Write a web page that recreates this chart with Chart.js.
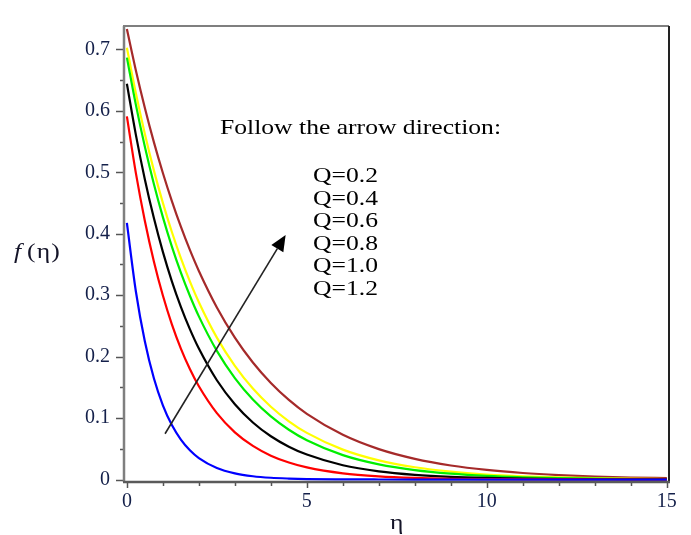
<!DOCTYPE html>
<html>
<head>
<meta charset="utf-8">
<script src="https://cdn.jsdelivr.net/npm/chart.js@4/dist/chart.umd.min.js"></script>
<style>
  html, body { margin: 0; padding: 0; background: #ffffff; }
  #wrap { width: 691px; height: 535px; position: relative; }
</style>
</head>
<body>
<div id="wrap"><canvas id="c" width="691" height="535"></canvas></div>
<script>
// ---- data ----
const eta = [0, 0.25, 0.5, 0.75, 1, 1.25, 1.5, 1.75, 2, 2.5, 3, 3.5, 4, 4.5, 5, 6, 7, 8, 9, 10, 11, 12, 13, 14, 15];

const fQ02 = [0.4175, 0.306, 0.2246, 0.1647, 0.1208, 0.0886, 0.065, 0.0477, 0.035, 0.0188, 0.0101, 0.0054, 0.0029, 0.0016, 0.0008, 0.0003, 0.0001, 0, 0, 0, 0, 0, 0, 0, 0];
const fQ04 = [0.591, 0.4986, 0.4207, 0.3549, 0.2994, 0.2526, 0.2131, 0.1798, 0.1517, 0.108, 0.0768, 0.0547, 0.0389, 0.0277, 0.0197, 0.01, 0.0051, 0.0026, 0.0013, 0.0007, 0.0003, 0.0002, 0.0001, 0, 0];
const fQ06 = [0.644, 0.5609, 0.4884, 0.4254, 0.3704, 0.3226, 0.281, 0.2447, 0.2131, 0.1616, 0.1226, 0.0929, 0.0705, 0.0535, 0.0406, 0.0233, 0.0134, 0.0077, 0.0044, 0.0026, 0.0015, 0.0008, 0.0005, 0.0003, 0.0002];
const fQ08 = [0.6866, 0.6097, 0.5415, 0.4809, 0.427, 0.3791, 0.3367, 0.2991, 0.2655, 0.2094, 0.1651, 0.1302, 0.1027, 0.081, 0.0639, 0.0397, 0.0247, 0.0154, 0.0096, 0.0059, 0.0037, 0.0023, 0.0014, 0.0009, 0.0006];
const fQ10 = [0.7025, 0.6287, 0.5624, 0.5031, 0.4502, 0.4028, 0.3604, 0.3224, 0.2885, 0.2309, 0.1849, 0.148, 0.1185, 0.0948, 0.0759, 0.0487, 0.0312, 0.02, 0.0128, 0.0082, 0.0053, 0.0034, 0.0022, 0.0014, 0.0009];
const fQ12 = [0.733, 0.6657, 0.6046, 0.549, 0.4988, 0.4531, 0.4114, 0.3736, 0.3394, 0.28, 0.231, 0.1905, 0.1572, 0.1296, 0.1069, 0.0728, 0.0495, 0.0337, 0.0229, 0.0156, 0.0106, 0.0072, 0.0049, 0.0033, 0.0023];

const seriesLabels = ["Q=0.2", "Q=0.4", "Q=0.6", "Q=0.8", "Q=1.0", "Q=1.2"];
const seriesColors = ["#0000ff", "#ff0000", "#000000", "#00ee00", "#ffff00", "#a52a2a"];

const xTicks = [0, 5, 10, 15];
const xTickLabels = ["0", "5", "10", "15"];
const yTicks = [0, 0.1, 0.2, 0.3, 0.4, 0.5, 0.6, 0.7];
const yTickLabels = ["0", "0.1", "0.2", "0.3", "0.4", "0.5", "0.6", "0.7"];

const headingText = "Follow the arrow direction:";
const xTitle = "η";
const yTitleF = "f";
const yTitleRest = "(η)";

// arrow endpoints in data units (η, f)
const arrowFrom = [1.06, 0.0745];
const arrowTo = [4.41, 0.398];

// ---- chart ----
const allSeries = [fQ02, fQ04, fQ06, fQ08, fQ10, fQ12];
const datasets = allSeries.map((s, i) => ({
  label: seriesLabels[i],
  data: eta.map((e, j) => ({ x: e, y: s[j] })),
  borderColor: seriesColors[i],
  backgroundColor: seriesColors[i],
  borderWidth: 2.2,
  pointRadius: 0,
  fill: false,
  cubicInterpolationMode: 'monotone'
}));

const SX = 1.22; // horizontal stretch of the reference's lettering

const decor = {
  id: 'decor',
  afterDraw(chart) {
    const ctx = chart.ctx;
    const xs = chart.scales.x, ys = chart.scales.y;
    const a = chart.chartArea;
    ctx.save();

    // tick marks
    ctx.strokeStyle = '#555555';
    ctx.lineWidth = 1.5;
    for (let k = 0; k <= 14; k++) {
      const v = k * 0.05;
      const py = Math.round(ys.getPixelForValue(v)) + 0.5;
      const major = k % 2 === 0;
      ctx.beginPath();
      ctx.moveTo(a.left - (major ? 8 : 4), py);
      ctx.lineTo(a.left, py);
      ctx.stroke();
    }
    for (let k = 0; k <= 15; k++) {
      const px = Math.round(xs.getPixelForValue(k)) + 0.5;
      const major = k % 5 === 0;
      ctx.beginPath();
      ctx.moveTo(px, a.bottom);
      ctx.lineTo(px, a.bottom + (major ? 6 : 4));
      ctx.stroke();
    }

    // frame
    ctx.lineWidth = 2.5;
    ctx.strokeStyle = '#7f7f7f';
    ctx.beginPath(); ctx.moveTo(a.left, a.bottom); ctx.lineTo(a.left, a.top); ctx.stroke();
    ctx.lineWidth = 2;
    ctx.beginPath(); ctx.moveTo(a.left - 1, a.top); ctx.lineTo(a.right, a.top); ctx.stroke();
    ctx.strokeStyle = '#222222';
    ctx.beginPath(); ctx.moveTo(a.right, a.top); ctx.lineTo(a.right, a.bottom); ctx.stroke();
    ctx.lineWidth = 2.5;
    ctx.strokeStyle = '#5a5a5a';
    ctx.beginPath(); ctx.moveTo(a.left - 1, a.bottom); ctx.lineTo(a.right + 1, a.bottom); ctx.stroke();

    // arrow
    const x0 = xs.getPixelForValue(arrowFrom[0]), y0 = ys.getPixelForValue(arrowFrom[1]);
    const x1 = xs.getPixelForValue(arrowTo[0]), y1 = ys.getPixelForValue(arrowTo[1]);
    const ang = Math.atan2(y1 - y0, x1 - x0);
    const hl = 16, hw = 7;
    const bx = x1 - hl * Math.cos(ang), by = y1 - hl * Math.sin(ang);
    ctx.strokeStyle = '#222222';
    ctx.lineWidth = 1.6;
    ctx.beginPath(); ctx.moveTo(x0, y0); ctx.lineTo(bx, by); ctx.stroke();
    ctx.fillStyle = '#000000';
    ctx.beginPath();
    ctx.moveTo(x1, y1);
    ctx.lineTo(bx + hw * Math.sin(ang), by - hw * Math.cos(ang));
    ctx.lineTo(bx - hw * Math.sin(ang), by + hw * Math.cos(ang));
    ctx.closePath();
    ctx.fill();

    // annotation text
    const stretchText = (txt, x, y, font, color) => {
      ctx.save();
      ctx.font = font;
      ctx.fillStyle = color;
      ctx.textAlign = 'left';
      ctx.textBaseline = 'alphabetic';
      ctx.translate(x, y);
      ctx.scale(SX, 1);
      ctx.fillText(txt, 0, 0);
      ctx.restore();
    };
    stretchText(headingText, 220, 134, '21px "Liberation Serif"', '#000000');
    seriesLabels.forEach((t, i) => {
      stretchText(t, 313, 182 + i * 22.5, '21px "Liberation Serif"', '#000000');
    });

    // axis titles
    stretchText(yTitleF, 14, 258, 'italic 21px "Liberation Serif"', '#141428');
    ctx.save();
    ctx.font = '21px "Liberation Serif"';
    ctx.fillStyle = '#141428';
    ctx.letterSpacing = '1px';
    ctx.translate(27, 258);
    ctx.scale(SX, 1);
    ctx.fillText(yTitleRest, 0, 0);
    ctx.restore();
    stretchText(xTitle, 390, 529, '21px "Liberation Serif"', '#141428');

    ctx.restore();
  }
};

new Chart(document.getElementById('c'), {
  type: 'line',
  data: { datasets },
  plugins: [decor],
  options: {
    responsive: false,
    animation: false,
    devicePixelRatio: 1,
    layout: { padding: { top: 16, right: 22, left: 0, bottom: 0 } },
    plugins: { legend: { display: false }, tooltip: { enabled: false }, title: { display: false } },
    scales: {
      x: {
        type: 'linear',
        min: -0.08,
        max: 15.06,
        grid: { display: false, drawTicks: false },
        border: { display: false },
        afterBuildTicks: s => { s.ticks = xTicks.map(v => ({ value: v })); },
        afterFit: s => { s.height = 53; },
        ticks: {
          padding: 8,
          maxRotation: 0,
          autoSkip: false,
          color: '#14204a',
          font: { family: 'Liberation Serif', size: 20 },
          callback: (v) => { const i = xTicks.indexOf(v); return i >= 0 ? xTickLabels[i] : ''; }
        }
      },
      y: {
        type: 'linear',
        min: -0.004,
        max: 0.738,
        grid: { display: false, drawTicks: false },
        border: { display: false },
        afterBuildTicks: s => { s.ticks = yTicks.map(v => ({ value: v })); },
        afterFit: s => { s.width = 124; },
        ticks: {
          padding: 14,
          autoSkip: false,
          color: '#14204a',
          font: { family: 'Liberation Serif', size: 20 },
          callback: (v) => {
            let i = -1;
            yTicks.forEach((t, j) => { if (Math.abs(t - v) < 1e-9) i = j; });
            return i >= 0 ? yTickLabels[i] : '';
          }
        }
      }
    }
  }
});
</script>
</body>
</html>
